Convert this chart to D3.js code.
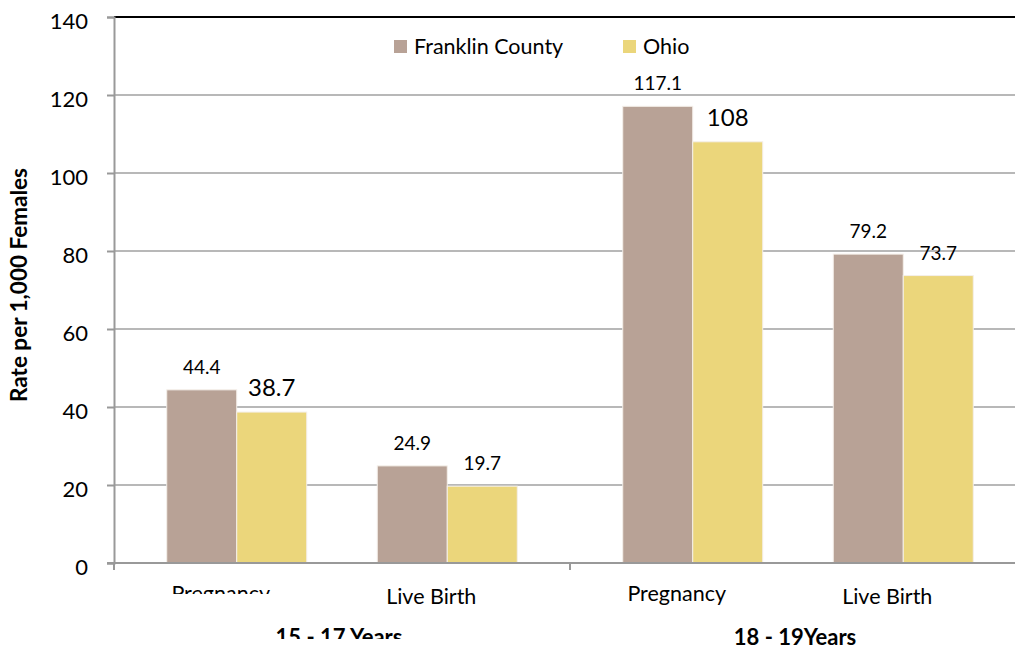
<!DOCTYPE html>
<html>
<head>
<meta charset="utf-8">
<script src="https://cdn.jsdelivr.net/npm/d3@7"></script>
<style>
  body { margin: 0; background: #fff; }
  svg { display: block; font-family: Lato, 'Liberation Sans', sans-serif; }
</style>
</head>
<body>
<div id="chart"></div>
<script>
const width = 1015
const height = 650

const groups = ['15 - 17 Years', '18 - 19Years']
const measures = ['Pregnancy', 'Live Birth']
const series = ['Franklin County', 'Ohio']
const franklin = [44.4, 24.9, 117.1, 79.2]
const ohio = [38.7, 19.7, 108, 73.7]
const y_ticks = [0, 20, 40, 60, 80, 100, 120, 140]

const colors = { 'Franklin County': '#b8a296', 'Ohio': '#ebd67b' }
// a couple of the value labels are set larger in the original
const big_labels = { 'Ohio|0': true, 'Ohio|2': true }

const plot_left = 114
const plot_top = 17
const plot_bottom = 563
const group_width = 456

// flatten into rows
const rows = []
groups.forEach((g, gi) => {
    measures.forEach((m, mi) => {
        const i = gi * measures.length + mi
        rows.push({ group: g, measure: m, idx: i, values: { 'Franklin County': franklin[i], 'Ohio': ohio[i] } })
    })
})

const svg = d3.select('#chart')
    .append('svg')
    .attr('width', width)
    .attr('height', height)

const y = d3.scaleLinear().domain([0, 140]).range([plot_bottom, plot_top])
const x0 = d3.scaleBand().domain(groups).range([plot_left, plot_left + group_width * groups.length]).padding(0)
const x1 = d3.scalePoint().domain(measures).range([0, group_width]).padding(0.583)
const xs = d3.scaleBand().domain(series).range([-70, 70]).padding(0)

// gridlines
svg.append('g')
    .selectAll('line')
    .data(y_ticks.filter(d => d > 0 && d < 140))
    .enter()
    .append('line')
    .attr('x1', plot_left)
    .attr('x2', width)
    .attr('y1', d => y(d))
    .attr('y2', d => y(d))
    .attr('stroke', '#a0a0a0')
    .attr('stroke-width', 1.6)

// top border
svg.append('line')
    .attr('x1', plot_left).attr('x2', width)
    .attr('y1', y(140)).attr('y2', y(140))
    .attr('stroke', '#000')
    .attr('stroke-width', 2)

// y axis
const y_axis = svg.append('g')
    .attr('transform', `translate(${plot_left},0)`)
    .call(d3.axisLeft(y).tickValues(y_ticks).tickSize(7).tickPadding(19))
y_axis.select('.domain').attr('stroke', '#999').attr('stroke-width', 2)
y_axis.selectAll('.tick line').attr('stroke', '#999').attr('stroke-width', 2)
y_axis.selectAll('.tick text')
    .attr('font-size', 22)
    .attr('dy', '0.5em')
    .attr('fill', '#000')
    .attr('font-family', 'Lato, sans-serif')

// bars
const bar_groups = svg.append('g')
    .selectAll('g')
    .data(rows)
    .enter()
    .append('g')
    .attr('transform', d => `translate(${x0(d.group) + x1(d.measure)},0)`)

bar_groups.selectAll('rect')
    .data(d => series.map(s => ({ s: s, v: d.values[s], idx: d.idx })))
    .enter()
    .append('rect')
    .attr('x', d => xs(d.s))
    .attr('width', xs.bandwidth())
    .attr('y', d => y(d.v))
    .attr('height', d => y(0) - y(d.v))
    .attr('fill', d => colors[d.s])
    .attr('stroke', '#f4efe9')
    .attr('stroke-width', 1)

bar_groups.selectAll('text')
    .data(d => series.map(s => ({ s: s, v: d.values[s], idx: d.idx })))
    .enter()
    .append('text')
    .attr('x', d => xs(d.s) + xs.bandwidth() / 2)
    .attr('y', d => y(d.v) - 16)
    .attr('text-anchor', 'middle')
    .attr('font-size', d => big_labels[d.s + '|' + d.idx] ? 24 : 19)
    .attr('fill', '#000')
    .text(d => d.v)

// x axis line and ticks
svg.append('line')
    .attr('x1', plot_left - 7).attr('x2', width)
    .attr('y1', plot_bottom).attr('y2', plot_bottom)
    .attr('stroke', '#999')
    .attr('stroke-width', 2)
svg.append('g')
    .selectAll('line')
    .data(groups)
    .enter()
    .append('line')
    .attr('x1', d => x0(d)).attr('x2', d => x0(d))
    .attr('y1', plot_bottom).attr('y2', plot_bottom + 7)
    .attr('stroke', '#999')
    .attr('stroke-width', 2)

// clip paths for the labels that are cut off in the original
const defs = svg.append('defs')
defs.append('clipPath').attr('id', 'clip_cat')
    .append('rect').attr('x', 0).attr('y', 0).attr('width', width).attr('height', 594)
defs.append('clipPath').attr('id', 'clip_grp')
    .append('rect').attr('x', 0).attr('y', 0).attr('width', width).attr('height', 639)

// category labels
svg.append('g')
    .selectAll('text')
    .data(rows)
    .enter()
    .append('text')
    .attr('x', d => x0(d.group) + x1(d.measure) - 16)
    .attr('y', d => d.measure === 'Pregnancy' ? 601 : 604)
    .attr('text-anchor', 'middle')
    .attr('font-size', 21.5)
    .attr('fill', '#000')
    .attr('clip-path', d => (d.idx === 0 ? 'url(#clip_cat)' : null))
    .text(d => d.measure)

// group labels
svg.append('g')
    .selectAll('text')
    .data(groups)
    .enter()
    .append('text')
    .attr('x', d => x0(d) + group_width / 2 - 3)
    .attr('y', 645)
    .attr('text-anchor', 'middle')
    .attr('font-size', 22)
    .attr('font-weight', 'bold')
    .attr('fill', '#000')
    .attr('clip-path', (d, i) => (i === 0 ? 'url(#clip_grp)' : null))
    .text(d => d)

// y axis title
svg.append('text')
    .attr('transform', `translate(27,285) rotate(-90)`)
    .attr('text-anchor', 'middle')
    .attr('font-size', 22.5)
    .attr('font-weight', 'bold')
    .attr('fill', '#000')
    .text('Rate per 1,000 Females')

// legend
const legend = svg.append('g')
    .selectAll('g')
    .data(series)
    .enter()
    .append('g')
    .attr('transform', (d, i) => `translate(${[394, 623][i]},40)`)
legend.append('rect')
    .attr('width', 13)
    .attr('height', 13)
    .attr('fill', d => colors[d])
legend.append('text')
    .attr('x', 20)
    .attr('y', 14)
    .attr('font-size', 21.5)
    .attr('fill', '#000')
    .text(d => d)
</script>
</body>
</html>
